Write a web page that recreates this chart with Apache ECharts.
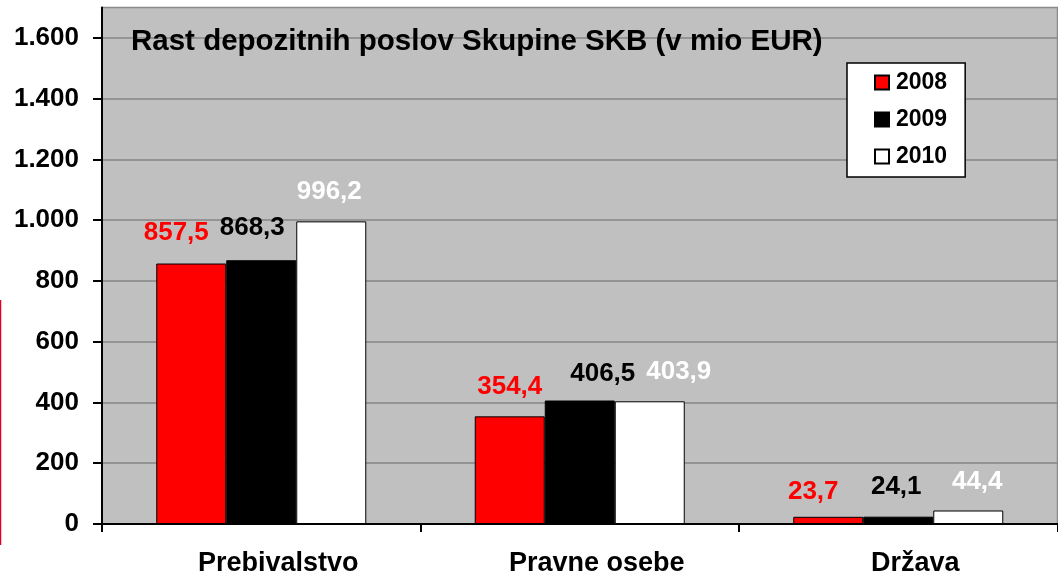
<!DOCTYPE html>
<html>
<head>
<meta charset="utf-8">
<script src="https://cdn.jsdelivr.net/npm/echarts@6/dist/echarts.min.js"></script>
<style>
html,body{margin:0;padding:0;background:#fff;}
#chart{width:1058px;height:584px;}
</style>
</head>
<body>
<div id="chart"></div>
<script>
// ---- data ----
const titleText = 'Rast depozitnih poslov Skupine SKB (v mio EUR)';
const categories = ['Prebivalstvo', 'Pravne osebe', 'Država'];
const seriesNames = ['2008', '2009', '2010'];
const values2008 = [857.5, 354.4, 23.7];
const values2009 = [868.3, 406.5, 24.1];
const values2010 = [996.2, 403.9, 44.4];
const yTicks = [0, 200, 400, 600, 800, 1000, 1200, 1400, 1600];

// ---- styling ----
const FONT = 'Arial, "Liberation Sans", sans-serif';
const fills = ['#ff0000', '#000000', '#ffffff'];
const labelShift = [
  [[-15, -1], [0, 0], [-15, 5]],
  [[-9, -2], [23, 3], [-2, 0]],
  [[-2, 0], [29, 1], [9, 1]]
];
const allValues = [values2008, values2009, values2010];

function fmtDec(v) { return v.toFixed(1).replace('.', ','); }
function fmtThousands(v) { return String(v).replace(/\B(?=(\d{3})+(?!\d))/g, '.'); }

const chart = echarts.init(document.getElementById('chart'), null, {renderer: 'canvas'});

const series = allValues.map((vals, si) => ({
  name: seriesNames[si],
  type: 'bar',
  barWidth: 70,
  barGap: '0%',
  itemStyle: {color: fills[si], borderColor: '#000', borderWidth: 1},
  data: vals.map((v, ci) => ({
    value: v,
    label: {offset: labelShift[si][ci]}
  })),
  label: {
    show: true,
    position: 'top',
    distance: 17,
    color: fills[si],
    fontFamily: FONT,
    fontWeight: 'bold',
    fontSize: 26,
    formatter: p => fmtDec(p.value)
  },
  emphasis: {disabled: true},
  animation: false
}));

chart.setOption({
  animation: false,
  backgroundColor: '#ffffff',
  title: {
    text: titleText,
    left: 131,
    top: 27,
    padding: 0,
    textStyle: {fontFamily: FONT, fontWeight: 'bold', fontSize: 29.5, color: '#000'}
  },
  legend: {
    orient: 'vertical',
    left: 847,
    top: 63,
    data: seriesNames,
    backgroundColor: '#ffffff',
    borderColor: '#000000',
    borderWidth: 1.5,
    padding: [8, 18, 9, 27],
    itemWidth: 14,
    itemHeight: 14,
    itemGap: 14,
    icon: 'rect',
    textStyle: {fontFamily: FONT, fontWeight: 'bold', fontSize: 23, color: '#000', lineHeight: 23, padding: [0, 0, 0, 2]},
    selectedMode: false
  },
  grid: {
    left: 102,
    right: 0.5,
    top: 7.6,
    bottom: 60,
    show: true,
    backgroundColor: '#c0c0c0',
    borderColor: '#8a8a8a',
    borderWidth: 1.5
  },
  xAxis: {
    type: 'category',
    data: categories,
    axisLine: {lineStyle: {color: '#000', width: 2}},
    axisTick: {show: true, length: 8, lineStyle: {color: '#000', width: 2}},
    axisLabel: {
      color: '#000',
      fontFamily: FONT,
      fontWeight: 'bold',
      fontSize: 27,
      margin: 26,
      padding: [0, 0, 0, 34]
    }
  },
  yAxis: {
    type: 'value',
    min: 0,
    max: 1700,
    interval: 200,
    axisLine: {show: true, lineStyle: {color: '#000', width: 2}},
    axisTick: {show: true, length: 9, lineStyle: {color: '#000', width: 2}, customValues: yTicks},
    axisLabel: {
      color: '#000',
      fontFamily: FONT,
      fontWeight: 'bold',
      fontSize: 26,
      margin: 23,
      customValues: yTicks,
      formatter: v => fmtThousands(v)
    },
    splitLine: {show: true, lineStyle: {color: '#868686', width: 1.5}}
  },
  graphic: [{
    type: 'line',
    shape: {x1: 0.5, y1: 300, x2: 0.5, y2: 545},
    style: {stroke: '#e0002a', lineWidth: 1.5},
    silent: true
  }],
  series: series
});
</script>
</body>
</html>
